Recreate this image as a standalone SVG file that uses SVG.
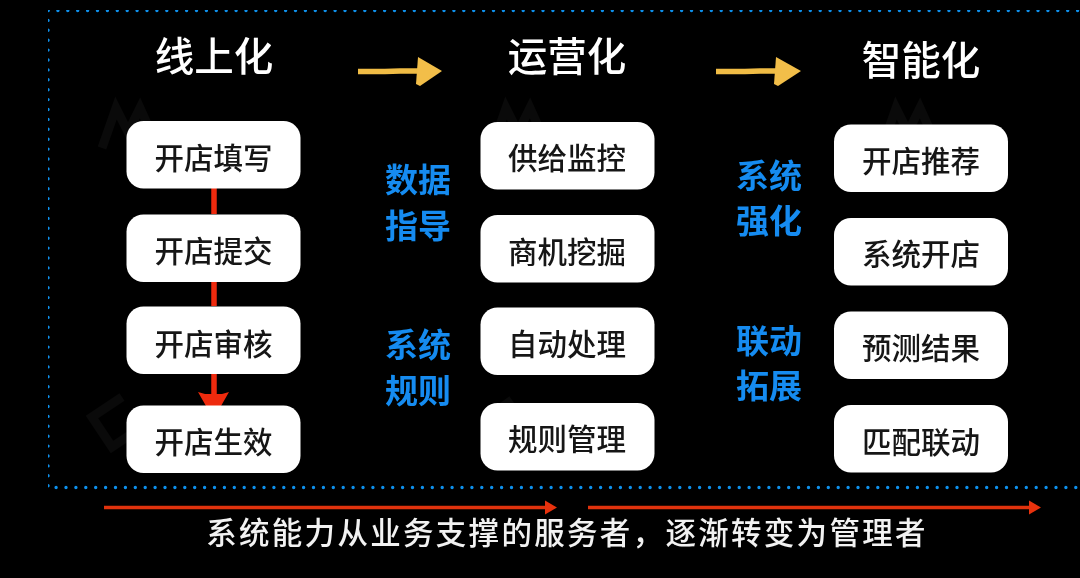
<svg xmlns="http://www.w3.org/2000/svg" width="1080" height="578" viewBox="0 0 1080 578">
<style>
text{font-family:"Noto Sans CJK SC","Noto Sans",sans-serif;text-anchor:middle}
.box rect{fill:#fff;width:174px;height:67.5px;rx:17px;ry:17px}
.box text{font-size:29.5px;fill:#141414;font-weight:500}
.title{font-size:39.5px;fill:#fff;font-weight:500}
.side{font-size:33px;fill:#128BF0;font-weight:700}
.foot{font-size:30.5px;fill:#f2f2f2;letter-spacing:2.3px;font-weight:500}
.dot{fill:none;stroke:#1090EC;stroke-width:3.4;stroke-linecap:round;stroke-dasharray:0 9.9}
.yel{fill:none;stroke:#F0BC45;stroke-width:5.5}
.red{fill:none;stroke:#EE2A0A;stroke-width:5.5}
.redh{fill:none;stroke:#E0300F;stroke-width:3.5}
.wm{fill:none;stroke:#fff;stroke-opacity:.04;stroke-width:9}
</style>
<defs>
<filter id="soft" x="0" y="0" width="100%" height="100%"><feGaussianBlur stdDeviation="0.35"/></filter>
<marker id="hb" markerUnits="userSpaceOnUse" markerWidth="12" markerHeight="16" refX="1" refY="8" orient="auto"><path d="M0 1L12 8L0 15Z" fill="#E8300C"/></marker>
</defs>
<rect width="1080" height="578" fill="#000"/>
<g filter="url(#soft)">
<g id="watermarks">
<path class="wm" d="M102 148L116 108L128 132L140 108L150 130"/>
<path class="wm" d="M492 148L506 108L518 132L530 108L540 130"/>
<path class="wm" d="M882 148L896 108L908 132L920 108L930 130"/>
<path class="wm" d="M122 397L92 417L112 447L142 427"/>
<path class="wm" d="M512 400L487 418L507 448L530 430"/>
<path class="wm" d="M890 415L870 430L885 452"/>
</g>
<g id="frame">
<path class="dot" d="M48 10.5H1080"/>
<path class="dot" d="M48 10.5V487.5H1080"/>
</g>
<g id="connectors">
<path class="yel" d="M358 71.5L385 71.5L400 71L421 71"/>
<path d="M418 57L442 71L420 86L416 84Z" fill="#F2BE48"/>
<path class="yel" d="M716 71.5L745 71.5L760 71L779 71"/>
<path d="M776 57L801 71L778 86L774 84Z" fill="#F2BE48"/>
<path class="red" d="M214 188V214"/>
<path class="red" d="M214 282V306"/>
<path class="red" d="M214 374V394"/>
<path d="M198 392L205 394H222L229 392L221 406H206Z" fill="#EE2A0A"/>
<path class="redh" d="M104 507.5H546" marker-end="url(#hb)"/>
<path class="redh" d="M588 507.5H1030" marker-end="url(#hb)"/>
</g>
<g id="col1-title"><text class="title" x="214" y="71">线上化</text></g>
<g id="col2-title"><text class="title" x="567" y="71">运营化</text></g>
<g id="col3-title"><text class="title" x="921" y="75">智能化</text></g>
<g id="n1" class="box"><rect x="126.5" y="121"/><text x="213.5" y="168.5">开店填写</text></g>
<g id="n2" class="box"><rect x="126.5" y="214.5"/><text x="213.5" y="261.5">开店提交</text></g>
<g id="n3" class="box"><rect x="126.5" y="306.5"/><text x="213.5" y="354.5">开店审核</text></g>
<g id="n4" class="box"><rect x="126.5" y="405.5"/><text x="213.5" y="452.5">开店生效</text></g>
<g id="n5" class="box"><rect x="480.5" y="122"/><text x="567" y="168.5">供给监控</text></g>
<g id="n6" class="box"><rect x="480.5" y="215"/><text x="567" y="262.5">商机挖掘</text></g>
<g id="n7" class="box"><rect x="480.5" y="307.5"/><text x="567" y="354.5">自动处理</text></g>
<g id="n8" class="box"><rect x="480.5" y="403"/><text x="567" y="449.5">规则管理</text></g>
<g id="n9" class="box"><rect x="834" y="124.5"/><text x="921" y="171.5">开店推荐</text></g>
<g id="n10" class="box"><rect x="834" y="218"/><text x="921" y="264.5">系统开店</text></g>
<g id="n11" class="box"><rect x="834" y="311.5"/><text x="921" y="358.5">预测结果</text></g>
<g id="n12" class="box"><rect x="834" y="405"/><text x="921" y="452.5">匹配联动</text></g>
<g id="side1"><text class="side" x="418" y="192">数据</text><text class="side" x="418" y="238">指导</text></g>
<g id="side2"><text class="side" x="418" y="357">系统</text><text class="side" x="418" y="403">规则</text></g>
<g id="side3"><text class="side" x="769" y="188">系统</text><text class="side" x="769" y="233">强化</text></g>
<g id="side4"><text class="side" x="769" y="353">联动</text><text class="side" x="769" y="398">拓展</text></g>
<g id="footer"><text class="foot" x="567" y="544">系统能力从业务支撑的服务者，逐渐转变为管理者</text></g>
</g>
</svg>
